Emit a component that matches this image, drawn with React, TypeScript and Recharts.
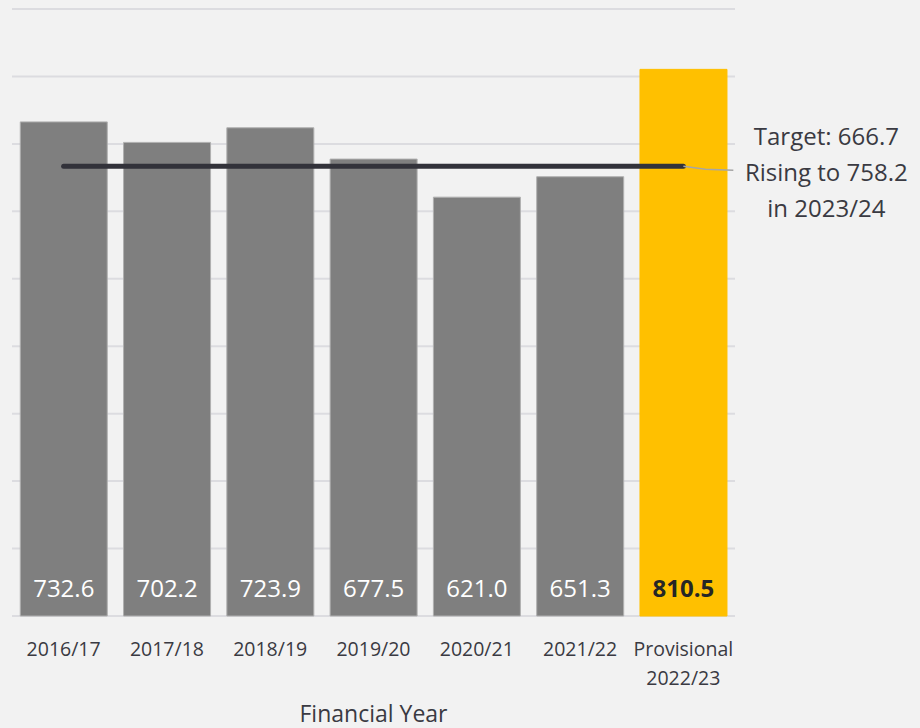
import { ComposedChart, Bar, Line, XAxis, YAxis, CartesianGrid, Cell, LabelList } from "recharts";

const years = ["2016/17", "2017/18", "2018/19", "2019/20", "2020/21", "2021/22", "Provisional 2022/23"];
const values = [732.6, 702.2, 723.9, 677.5, 621.0, 651.3, 810.5];
const target = 666.7;
const yTicks = [0, 100, 200, 300, 400, 500, 600, 700, 800, 900];

const data = years.map((year, i) => ({ year, value: values[i], target }));

const FONT = "'Open Sans', 'Noto Sans', sans-serif";
const TEXT = "#3a3a42";

function YearTick(props: any) {
  const { x, y, payload } = props;
  const parts = String(payload.value).split(" ");
  return (
    <text x={x} y={y} textAnchor="middle" fill={TEXT} fontSize={19.5} fontFamily={FONT}>
      {parts.map((p, i) => (
        <tspan key={i} x={x} dy={i === 0 ? 32 : 29}>
          {p}
        </tspan>
      ))}
    </text>
  );
}

function ValueLabel(props: any) {
  const { x, y, width, height, value, index } = props;
  const last = index === values.length - 1;
  return (
    <text
      x={x + width / 2}
      y={y + height - 19}
      textAnchor="middle"
      fill={last ? "#262626" : "#ffffff"}
      fontWeight={last ? 700 : 400}
      fontSize={24}
      fontFamily={FONT}
    >
      {Number(value).toFixed(1)}
    </text>
  );
}

function TargetLabel(props: any) {
  const { x, y, index } = props;
  if (index !== years.length - 1) return null;
  const tx = x + 143;
  return (
    <g>
      <polyline points={`${x},${y} ${x + 22},${y + 3} ${x + 50},${y + 4}`} fill="none" stroke="#a6a6a6" strokeWidth={1.5} />
      <text x={tx} y={y - 21} textAnchor="middle" fill={TEXT} fontSize={24} fontFamily={FONT}>
        <tspan x={tx} dy={0}>Target: {target}</tspan>
        <tspan x={tx} dy={36}>Rising to 758.2</tspan>
        <tspan x={tx} dy={36}>in 2023/24</tspan>
      </text>
    </g>
  );
}

export default function App() {
  return (
    <div style={{ position: "absolute", left: 0, top: 0, width: 920, height: 728, background: "#f2f2f2" }}>
      <ComposedChart
        width={920}
        height={728}
        data={data}
        margin={{ top: 9, right: 185, bottom: 0, left: 12 }}
        barCategoryGap="8%"
      >
        <CartesianGrid vertical={false} stroke="#dcdce0" strokeWidth={2} />
        <YAxis hide domain={[0, 900]} ticks={yTicks} />
        <XAxis
          dataKey="year"
          axisLine={false}
          tickLine={false}
          height={112}
          interval={0}
          tick={<YearTick />}
          label={{ value: "Financial Year", position: "insideBottom", offset: 6, fill: TEXT, fontSize: 23, fontFamily: FONT }}
        />
        <Bar dataKey="value" isAnimationActive={false} stroke="#b0b0b0" strokeWidth={1}>
          {data.map((d, i) => (
            <Cell key={d.year} fill={i === data.length - 1 ? "#ffc000" : "#7f7f7f"} stroke={i === data.length - 1 ? "#ffc000" : "#b0b0b0"} />
          ))}
          <LabelList dataKey="value" content={<ValueLabel />} />
        </Bar>
        <Line
          dataKey="target"
          stroke="#32323a"
          strokeWidth={5}
          strokeLinecap="round"
          dot={false}
          activeDot={false}
          isAnimationActive={false}
          label={<TargetLabel />}
        />
      </ComposedChart>
    </div>
  );
}
